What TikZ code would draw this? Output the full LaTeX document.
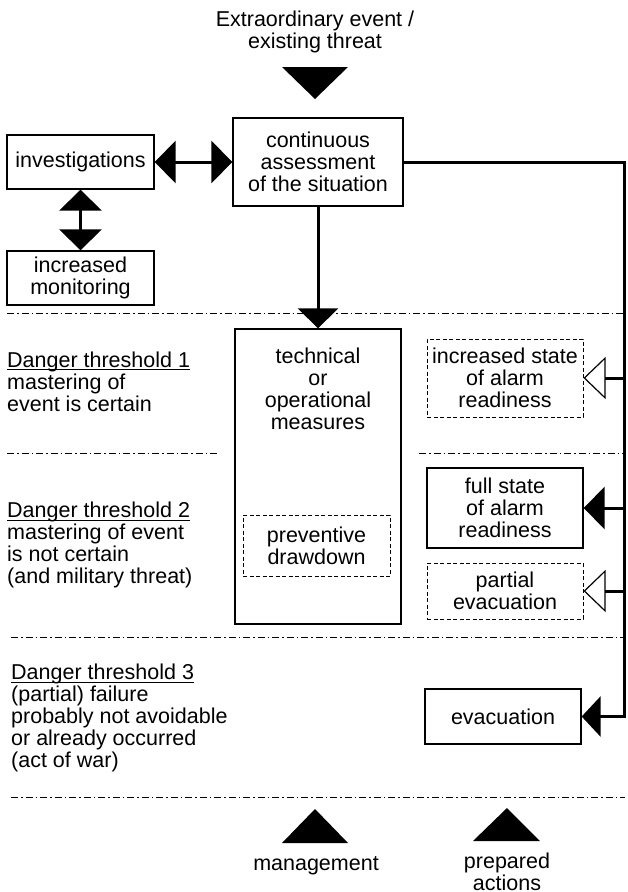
\documentclass[tikz,border=0pt]{standalone}
\usepackage{fontspec}
\setmainfont{Liberation Sans}
\usetikzlibrary{arrows.meta}
% underline drawn just below the baseline, as in the threshold headings
\newcommand{\dangerul}[1]{\setbox0\hbox{#1}\rlap{\rule[-3.2pt]{\wd0}{1.1pt}}\box0}
\begin{document}
\begin{tikzpicture}[x=1pt,y=-1pt,
  every node/.style={font=\fontsize{21.5}{22}\selectfont, inner sep=0pt},
  box/.style={draw, line width=1.3pt, align=center},
  dbox/.style={draw, line width=1pt, dash pattern=on 4pt off 2.5pt, align=center},
  conn/.style={line width=3pt},
  sepline/.style={line width=0.9pt, dash pattern=on 7pt off 3pt on 1.5pt off 3pt},
  lbl/.style={anchor=west, align=left},
  fulltip/.style={-{Triangle[length=21pt,width=42pt]}},
  opentip/.style={-{Triangle[open,line width=1.2pt,length=22pt,width=42pt]}},
  bothtips/.style={{Triangle[length=21pt,width=42pt]}-{Triangle[length=21pt,width=42pt]}}
]
\useasboundingbox (0,0) rectangle (627,892);

% threshold separators
\draw[sepline] (7,313) -- (625,313);
\draw[sepline] (7,453) -- (217,453);
\draw[sepline] (419,453) -- (625,453);
\draw[sepline] (11,637) -- (625,637);
\draw[sepline] (11,797) -- (625,797);

% trigger
\node[align=center] (trigger) at (315,32) {Extraordinary event /\\existing threat};
\fill (282,67) -- (348,67) -- (315,99) -- cycle;

% boxes
\node[box, minimum width=147pt, minimum height=54pt] (inv) at (80.5,162) {investigations};
\node[box, minimum width=147pt, minimum height=54pt] (mon) at (80.5,278) {increased\\monitoring};
\node[box, minimum width=170pt, minimum height=88pt] (assess) at (318,162) {continuous\\assessment\\of the situation};
\node[box, minimum width=166pt, minimum height=295pt] (meas) at (318,476.5) {};
\node[align=center] (meastext) at (318,389) {technical\\or\\operational\\measures};
\node[dbox, minimum width=147pt, minimum height=61pt] (prev) at (316.5,545.5) {preventive\\drawdown};

\node[dbox, minimum width=156pt, minimum height=78pt] (incr) at (505,378) {increased state\\of alarm\\readiness};
\node[box, minimum width=156pt, minimum height=80pt] (full) at (505,508) {full state\\of alarm\\readiness};
\node[dbox, minimum width=156pt, minimum height=56pt] (part) at (505,591) {partial\\evacuation};
\node[box, minimum width=156pt, minimum height=55pt] (evac) at (503,716.5) {evacuation};

% threshold descriptions
\node[lbl] (dt1) at (7,381.5) {\dangerul{Danger threshold 1}\\mastering of\\event is certain};
\node[lbl] (dt2) at (7,545) {\dangerul{Danger threshold 2}\\mastering of event\\is not certain\\(and military threat)};
\node[lbl] (dt3) at (11,718) {\dangerul{Danger threshold 3}\\(partial) failure\\probably not avoidable\\or already occurred\\(act of war)};

% connectors
\draw[conn, bothtips] (inv) -- (assess);
\draw[conn, bothtips] (inv) -- (mon);
\draw[conn, -{Triangle[length=20pt,width=40pt]}] (assess) -- (meas);

\coordinate (rtop) at (624.5,162);
\coordinate (rbot) at (624.5,716.5);
\draw[conn, line join=miter, -{Triangle[length=19pt,width=40pt]}] (assess.east) -- (rtop) -- (rbot) -- (evac.east);
\draw[conn, opentip] (incr.east -| rtop) -- (incr.east);
\draw[conn, fulltip] (full.east -| rtop) -- (full.east);
\draw[conn, opentip] (part.east -| rtop) -- (part.east);

% bottom legend
\fill (282,843) -- (348,843) -- (315,809) -- cycle;
\fill (473,841) -- (540,841) -- (507,808) -- cycle;
\node (mgmt) at (316,866) {management};
\node[align=center] (prep) at (507,872) {prepared\\actions};
\end{tikzpicture}
\end{document}
